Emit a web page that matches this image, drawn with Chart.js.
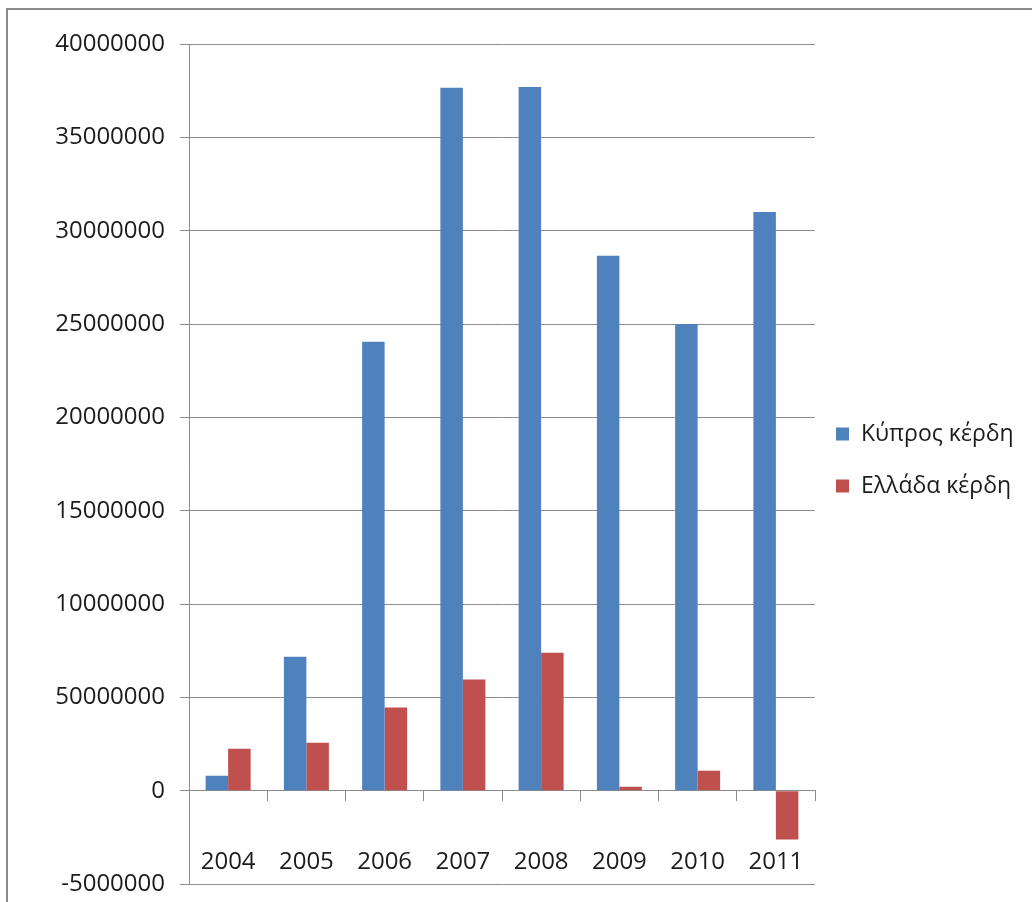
<!DOCTYPE html>
<html>
<head>
<meta charset="utf-8">
<script src="https://cdn.jsdelivr.net/npm/chart.js@4/dist/chart.umd.min.js"></script>
<style>
  html, body { margin: 0; padding: 0; background: #ffffff; }
  #wrap { width: 1032px; height: 902px; position: relative; }
</style>
</head>
<body>
<div id="wrap"><canvas id="c" width="1032" height="902"></canvas></div>
<script>
// Years on the category axis
const years = ['2004', '2005', '2006', '2007', '2008', '2009', '2010', '2011'];

// Profits per year
const cyprusProfit = [800000, 7180000, 24050000, 37650000, 37700000, 28660000, 25000000, 31000000];
const greeceProfit = [2250000, 2570000, 4450000, 5950000, 7390000, 210000, 1070000, -2620000];

// Value-axis labels, bottom to top
const yTickLabels = ['-5000000', '0', '50000000', '10000000', '15000000', '20000000',
                     '25000000', '30000000', '35000000', '40000000'];

const seriesNames = ['Κύπρος κέρδη', 'Ελλάδα κέρδη'];
const seriesColors = ['#4F81BD', '#C0504D'];

const gridColor = '#8c8c8c';
const textColor = '#1c1c1c';
const tickFont = { family: 'Open Sans', size: 24 };

// Page frame (top and left edge)
const framePlugin = {
  id: 'frame',
  beforeDraw(chart) {
    const ctx = chart.ctx;
    ctx.save();
    ctx.fillStyle = '#ffffff';
    ctx.fillRect(0, 0, chart.width, chart.height);
    ctx.strokeStyle = '#8a8a8a';
    ctx.lineWidth = 2;
    ctx.beginPath();
    ctx.moveTo(7, chart.height);
    ctx.lineTo(7, 9);
    ctx.lineTo(chart.width, 9);
    ctx.stroke();
    ctx.restore();
  }
};

// Legend to the right of the plot
const sideLegend = {
  id: 'sideLegend',
  afterDraw(chart) {
    const ctx = chart.ctx;
    const x = chart.chartArea.right + 21;
    const y0 = 434, gap = 52, box = 13;
    ctx.save();
    ctx.font = '23px "Open Sans"';
    ctx.textBaseline = 'middle';
    chart.data.datasets.forEach((ds, i) => {
      const y = y0 + i * gap;
      ctx.fillStyle = ds.backgroundColor;
      ctx.fillRect(x, y - box / 2, box, box);
      ctx.fillStyle = textColor;
      ctx.fillText(ds.label, x + 25, y);
    });
    ctx.restore();
  }
};

new Chart(document.getElementById('c'), {
  type: 'bar',
  data: {
    labels: years,
    datasets: [
      { label: seriesNames[0], data: cyprusProfit, backgroundColor: seriesColors[0] },
      { label: seriesNames[1], data: greeceProfit, backgroundColor: seriesColors[1] }
    ]
  },
  options: {
    responsive: false,
    animation: false,
    devicePixelRatio: 1,
    layout: { padding: { left: 0, top: 44, right: 217, bottom: 18 } },
    datasets: { bar: { categoryPercentage: 0.575, barPercentage: 1.0, borderWidth: 0 } },
    plugins: {
      legend: { display: false },
      tooltip: { enabled: false }
    },
    scales: {
      x: {
        type: 'category',
        position: { y: 0 },
        offset: true,
        grid: {
          offset: true,
          drawOnChartArea: false,
          drawTicks: true,
          tickLength: 10,
          color: gridColor
        },
        border: { display: true, color: gridColor, width: 1 },
        ticks: { font: tickFont, color: textColor, padding: 47, maxRotation: 0 }
      },
      y: {
        min: -5000000,
        max: 40000000,
        afterFit(scale) {
          scale.width = 189;
          scale.paddingTop = 0;
          scale.paddingBottom = 0;
        },
        grid: { color: gridColor, tickLength: 9, drawTicks: true },
        border: { display: true, color: gridColor, width: 1 },
        ticks: {
          stepSize: 5000000,
          font: tickFont,
          color: textColor,
          padding: 15,
          callback: (v, i) => yTickLabels[i]
        }
      }
    }
  },
  plugins: [framePlugin, sideLegend]
});
</script>
</body>
</html>
